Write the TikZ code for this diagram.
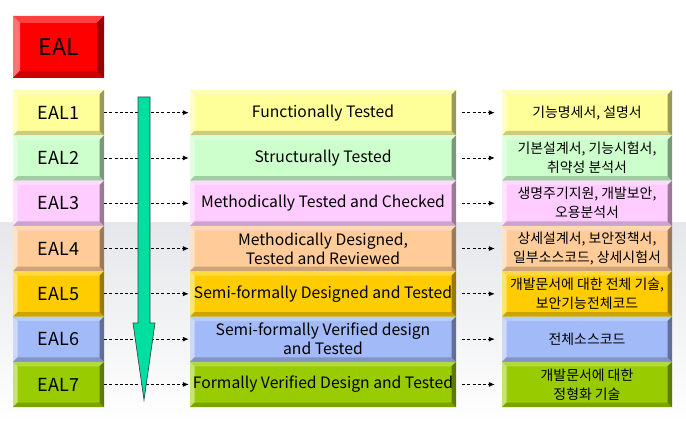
\documentclass[tikz,border=0pt]{standalone}
\usepackage{fontspec}
\setmainfont{Noto Sans CJK KR}
\usetikzlibrary{arrows.meta}

\definecolor{bandtop}{HTML}{E6E7EA}
\definecolor{ealred}{HTML}{FF0000}
\definecolor{rowA}{HTML}{FFFF99}
\definecolor{rowB}{HTML}{CCFFCC}
\definecolor{rowC}{HTML}{FFCCFF}
\definecolor{rowD}{HTML}{FFCC99}
\definecolor{rowE}{HTML}{FFCC00}
\definecolor{rowF}{HTML}{A3BAF8}
\definecolor{rowG}{HTML}{99CC00}
\definecolor{flow}{HTML}{00DFA0}
\definecolor{flowline}{HTML}{2E4A44}

\tikzset{
  x=1pt, y=-1pt,
  % box with a raised, bevelled frame: #1 face colour, #2 bevel width in pt
  bevelbox/.style 2 args={
    fill=#1, draw=none, inner sep=0pt, align=center,
    path picture={
      \fill[#1!75!white]
        (path picture bounding box.north west) -- (path picture bounding box.north east)
        -- ([shift={(-#2pt,-#2pt)}]path picture bounding box.north east)
        -- ([shift={(#2pt,-#2pt)}]path picture bounding box.north west) -- cycle;
      \fill[#1!55!white]
        (path picture bounding box.north west) -- (path picture bounding box.south west)
        -- ([shift={(#2pt,#2pt)}]path picture bounding box.south west)
        -- ([shift={(#2pt,-#2pt)}]path picture bounding box.north west) -- cycle;
      \fill[#1!80!black]
        (path picture bounding box.south west) -- (path picture bounding box.south east)
        -- ([shift={(-#2pt,#2pt)}]path picture bounding box.south east)
        -- ([shift={(#2pt,#2pt)}]path picture bounding box.south west) -- cycle;
      \fill[#1!60!black]
        (path picture bounding box.north east) -- (path picture bounding box.south east)
        -- ([shift={(-#2pt,#2pt)}]path picture bounding box.south east)
        -- ([shift={(-#2pt,-#2pt)}]path picture bounding box.north east) -- cycle;
    }},
  levelbox/.style={bevelbox={#1}{4.5}, minimum width=91pt, minimum height=45.3pt,
    font=\fontsize{18}{21}\selectfont},
  namebox/.style={bevelbox={#1}{4.5}, minimum width=266pt, minimum height=45.3pt,
    font=\fontsize{15.7}{19}\selectfont},
  docbox/.style={bevelbox={#1}{4.5}, minimum width=170pt, minimum height=45.3pt,
    font=\fontsize{13.9}{19}\selectfont},
  link/.style={draw=black, line width=0.8pt, dash pattern=on 3pt off 2.2pt,
    -{Latex[length=6pt,width=5pt]}},
}

\begin{document}
\begin{tikzpicture}
\useasboundingbox (0,0) rectangle (686,425);

% light grey band behind the lower rows
\fill[top color=bandtop, bottom color=white] (0,223) rectangle (686,425);

% title block
\node[bevelbox={ealred}{7}, minimum width=91pt, minimum height=62pt,
      font=\fontsize{23}{26}\selectfont] (eal) at (58.5,47) {EAL};

% the seven assurance levels
\foreach \i/\col/\mname/\docs in {
  1/rowA/{Functionally Tested}/{기능명세서, 설명서},
  2/rowB/{Structurally Tested}/{기본설계서, 기능시험서,\\취약성 분석서},
  3/rowC/{Methodically Tested and Checked}/{생명주기지원, 개발보안,\\오용분석서},
  4/rowD/{Methodically Designed,\\Tested and Reviewed}/{상세설계서, 보안정책서,\\일부소스코드, 상세시험서},
  5/rowE/{Semi-formally Designed and Tested}/{개발문서에 대한 전체 기술,\\보안기능전체코드},
  6/rowF/{Semi-formally Verified design\\and Tested}/{전체소스코드},
  7/rowG/{Formally Verified Design and Tested}/{개발문서에 대한\\정형화 기술}}
{
  \pgfmathsetmacro{\yc}{112.65+45.3*(\i-1)}
  \node[levelbox=\col] (e\i) at (58.5,\yc) {EAL\i};
  \node[namebox=\col]  (m\i) at (323,\yc) {\mname};
  \node[docbox=\col]   (r\i) at (587,\yc) {\docs};
  \draw[link, shorten >=1pt] (e\i.east) -- (m\i.west);
  \draw[link, shorten <=6pt, shorten >=7pt] (m\i.east) -- (r\i.west);
}

% downward arrow across the levels
\filldraw[fill=flow, draw=flowline, line width=0.7pt, line join=miter]
  (138,97) -- (150,97) -- (150,323) -- (155,323) -- (144,400)
  -- (133,323) -- (138,323) -- cycle;
\end{tikzpicture}
\end{document}
